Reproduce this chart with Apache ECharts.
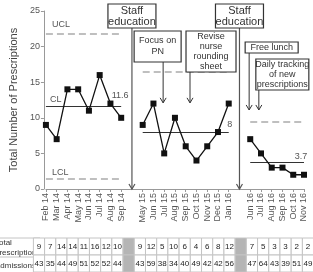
<!DOCTYPE html>
<html>
<head>
    <meta charset="utf-8" />
    <title></title>
    <style>
        html, body { margin: 0; padding: 0; background: #fff; }
        #chart { width: 313px; height: 272px; }
    </style>
</head>
<body>
    <div id="chart"></div>
    <script src="https://cdn.jsdelivr.net/npm/echarts@6/dist/echarts.min.js"></script>
    <script>
        // months, '' marks the gap between phases
        var months = ['Feb 14', 'Mar 14', 'Apr 14', 'May 14', 'Jun 14', 'Jul 14', 'Aug 14', 'Sep 14', '',
            'May 15', 'Jun 15', 'Jul 15', 'Aug 15', 'Sep 15', 'Oct 15', 'Nov 15', 'Dec 15', 'Jan 16', '',
            'Jun 16', 'Jul 16', 'Aug 16', 'Sep 16', 'Oct 16', 'Nov 16'];
        var prescriptions = [9, 7, 14, 14, 11, 16, 12, 10, null,
            9, 12, 5, 10, 6, 4, 6, 8, 12, null,
            7, 5, 3, 3, 2, 2];
        var admissions = [43, 35, 44, 49, 51, 52, 52, 44, null,
            43, 59, 38, 34, 40, 49, 42, 42, 56, null,
            47, 64, 43, 39, 51, 49];

        // control limits per phase
        var phaseStart = [0, 9, 19];
        var phaseEnd = [7, 17, 24];
        var uclValues = [21.8, 16.4, 9.4];
        var clValues = [11.6, 8, 3.7];
        var lclValues = [1.4, null, null];

        var rowNames = ['Total\nprescriptions', 'Admissions'];

        var font = 'Liberation Sans';

        var limitLines = [];
        for (var i = 0; i < phaseStart.length; i++) {
            limitLines.push([{ coord: [phaseStart[i], uclValues[i]] }, { coord: [phaseEnd[i], uclValues[i]] }]);
            if (lclValues[i] != null) {
                limitLines.push([{ coord: [phaseStart[i], lclValues[i]] }, { coord: [phaseEnd[i], lclValues[i]] }]);
            }
        }
        var centerLines = [];
        for (var j = 0; j < phaseStart.length; j++) {
            centerLines.push([{ coord: [phaseStart[j], clValues[j]] }, { coord: [phaseEnd[j], clValues[j]] }]);
        }

        var tableData = [];
        for (var k = 0; k < months.length; k++) {
            tableData.push([k, 0]);
            tableData.push([k, 1]);
        }

        function renderCell(params, api) {
            var idx = api.value(0), row = api.value(1);
            var c = api.coord([idx, 0]);
            var w = api.size([1, 0])[0];
            var cs = params.coordSys;
            var h = cs.height / 2;
            var y = cs.y + row * h;
            var gap = months[idx] === '';
            var v = row === 0 ? prescriptions[idx] : admissions[idx];
            return {
                type: 'group',
                children: [{
                    type: 'rect',
                    shape: { x: c[0] - w / 2, y: y, width: w, height: h },
                    style: { fill: gap ? '#b5b5b5' : '#fff', stroke: '#c4c4c4', lineWidth: 1 }
                }, {
                    type: 'text',
                    style: {
                        text: gap ? '' : String(v), x: c[0], y: y + h / 2,
                        align: 'center', verticalAlign: 'middle',
                        font: '8px ' + font, fill: '#222'
                    }
                }]
            };
        }

        var option = {
            backgroundColor: '#fff',
            animation: false,
            grid: [
                { left: 37, right: 9, top: 11, bottom: 83 },
                { left: 39, right: 5, top: 238, height: 38 }
            ],
            xAxis: [{
                type: 'category',
                gridIndex: 0,
                data: months,
                boundaryGap: false,
                axisLine: { lineStyle: { color: '#999' } },
                axisTick: {
                    alignWithLabel: true,
                    length: 3,
                    interval: function (i, v) { return v !== ''; },
                    lineStyle: { color: '#999' }
                },
                axisLabel: {
                    rotate: 90, interval: 0, margin: 4,
                    fontFamily: font, fontSize: 9, color: '#555'
                }
            }, {
                type: 'category',
                gridIndex: 1,
                data: months,
                boundaryGap: false,
                show: false
            }],
            yAxis: [{
                type: 'value',
                gridIndex: 0,
                min: 0, max: 25, interval: 5,
                offset: 2,
                name: 'Total Number of Prescriptions',
                nameLocation: 'middle',
                nameGap: 19,
                nameTextStyle: { fontFamily: font, fontSize: 11, color: '#444' },
                axisLine: { show: true, lineStyle: { color: '#999' } },
                axisTick: { show: true, length: 3, lineStyle: { color: '#999' } },
                axisLabel: { fontFamily: font, fontSize: 9, color: '#555', margin: 4 },
                splitLine: { show: false }
            }, {
                type: 'value',
                gridIndex: 1,
                min: 0, max: 2,
                show: false
            }],
            series: [{
                name: 'Total prescriptions',
                type: 'line',
                xAxisIndex: 0, yAxisIndex: 0,
                data: prescriptions,
                connectNulls: false,
                symbol: 'rect',
                symbolSize: 6,
                itemStyle: { color: '#111' },
                lineStyle: { color: '#111', width: 1.3 },
                z: 5,
                markLine: {
                    silent: true,
                    symbol: ['none', 'none'],
                    lineStyle: { color: '#aaa', width: 1.5, type: [7, 4] },
                    label: { show: false },
                    data: limitLines
                }
            }, {
                name: 'CL',
                type: 'line',
                xAxisIndex: 0, yAxisIndex: 0,
                data: [],
                markLine: {
                    silent: true,
                    symbol: ['none', 'none'],
                    lineStyle: { color: '#333', width: 1, type: 'solid' },
                    label: { show: false },
                    data: centerLines
                }
            }, {
                name: 'table',
                type: 'custom',
                xAxisIndex: 1, yAxisIndex: 1,
                data: tableData,
                encode: { x: 0, y: 1 },
                renderItem: renderCell,
                silent: true
            }]
        };

        var chart = echarts.init(document.getElementById('chart'));
        chart.setOption(option);

        // helpers for annotations
        function px(idx, val) {
            var a = chart.convertToPixel({ gridIndex: 0 }, [0, val]);
            var b = chart.convertToPixel({ gridIndex: 0 }, [months.length - 1, 0]);
            return [a[0] + (b[0] - a[0]) * idx / (months.length - 1), a[1]];
        }
        var ink = '#333';
        var g = [];

        function label(idx, val, dx, dy, text, align) {
            var p = px(idx, val);
            g.push({
                type: 'text', x: p[0] + dx, y: p[1] + dy,
                style: { text: text, font: '9px ' + font, fill: '#555', align: align || 'left', verticalAlign: 'middle' }
            });
        }
        label(0, uclValues[0], 6, -9, 'UCL');
        label(0, clValues[0], 4, -7, 'CL');
        label(0, lclValues[0], 6, -7, 'LCL');
        // centre line values at the end of each phase
        label(phaseEnd[0], clValues[0], -1, -11, String(clValues[0]), 'center');
        label(phaseEnd[1], clValues[1], 1, -8, String(clValues[1]), 'center');
        label(phaseEnd[2], clValues[2], -3, -6, String(clValues[2]), 'center');

        function box(x, y, w, h, text, size, lh) {
            g.push({
                type: 'rect', shape: { x: x, y: y, width: w, height: h },
                style: { fill: '#fff', stroke: ink, lineWidth: 1.2 }, z: 10
            });
            g.push({
                type: 'text', x: x + w / 2, y: y + h / 2, z: 11,
                style: {
                    text: text, font: size + 'px ' + font, fill: '#333', lineHeight: lh,
                    align: 'center', verticalAlign: 'middle'
                }
            });
        }
        function arrow(x, y1, y2, color, width) {
            g.push({
                type: 'line', shape: { x1: x, y1: y1, x2: x, y2: y2 },
                style: { stroke: color, lineWidth: width }, z: 9
            });
            g.push({
                type: 'polyline', shape: { points: [[x - 3, y2 - 5], [x, y2], [x + 3, y2 - 5]] },
                style: { stroke: color, lineWidth: width, fill: null }, z: 9
            });
        }

        var base = px(0, 0)[1];
        // phase separators
        var s1 = px(8, 0)[0], s2 = px(18, 0)[0];
        arrow(s1, 28, base, '#555', 1.2);
        arrow(s2, 28, base, '#555', 1.2);
        box(s1 - 24, 4, 48, 24, 'Staff\neducation', 11, 11);
        box(s2 - 24, 4, 48, 24, 'Staff\neducation', 11, 11);

        // interventions
        var a1 = px(10.9, 12.1), a2 = px(13.4, 12.1), a3 = px(18.9, 11.1), a4 = px(19.8, 11.1);
        arrow(a1[0], 62, a1[1], ink, 1);
        arrow(a2[0], 72, a2[1], ink, 1);
        arrow(a3[0], 53, a3[1], ink, 1);
        arrow(a4[0], 90, a4[1], ink, 1);
        box(a1[0] - 29, 31, 47, 31, 'Focus on\nPN', 9, 11);
        box(a2[0] - 4, 31, 50, 41, 'Revise\nnurse\nrounding\nsheet', 9, 10);
        box(a3[0] - 4, 42, 53, 11, 'Free lunch', 9, 10);
        box(a4[0] - 3, 59, 53, 31, 'Daily tracking\nof new\nprescriptions', 9, 10);

        // table row names and borders of the name column
        g.push({ type: 'line', shape: { x1: 0, y1: 238, x2: 40, y2: 238 }, style: { stroke: '#c4c4c4', lineWidth: 1 } });
        g.push({ type: 'line', shape: { x1: 0, y1: 257, x2: 40, y2: 257 }, style: { stroke: '#c4c4c4', lineWidth: 1 } });
        g.push({
            type: 'text', x: -5, y: 247.5,
            style: { text: rowNames[0], font: '8px ' + font, fill: '#333', lineHeight: 10, verticalAlign: 'middle' }
        });
        g.push({
            type: 'text', x: -5, y: 266,
            style: { text: rowNames[1], font: '8px ' + font, fill: '#333', verticalAlign: 'middle' }
        });

        chart.setOption({ graphic: g });
    </script>
</body>
</html>
